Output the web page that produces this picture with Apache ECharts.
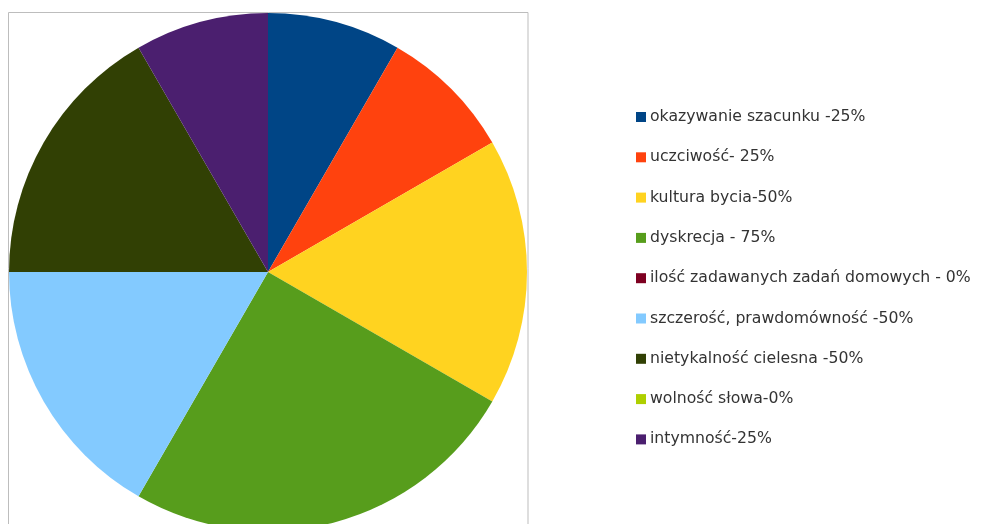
<!DOCTYPE html>
<html>
<head>
<meta charset="utf-8">
<script src="https://cdn.jsdelivr.net/npm/echarts@6/dist/echarts.min.js"></script>
<style>
  html, body { margin: 0; padding: 0; background: #fff; }
  #main { width: 981px; height: 524px; }
</style>
</head>
<body>
<div id="main"></div>
<script>
let categories = [
    'okazywanie szacunku -25%',
    'uczciwość- 25%',
    'kultura bycia-50%',
    'dyskrecja - 75%',
    'ilość zadawanych zadań domowych - 0%',
    'szczerość, prawdomówność -50%',
    'nietykalność cielesna -50%',
    'wolność słowa-0%',
    'intymność-25%'
]
let values = [25, 25, 50, 75, 0, 50, 50, 0, 25]
let colors = ['#004586', '#ff420e', '#ffd320', '#579d1c', '#7e0021', '#83caff', '#314004', '#aecf00', '#4b1f6f']

let myChart = echarts.init(document.getElementById('main'))

let option = {
    animation: false,
    color: colors,
    graphic: [
        {
            type: 'rect',
            shape: { x: 8.5, y: 12.5, width: 519.5, height: 530 },
            style: { fill: 'none', stroke: '#bdbdbd', lineWidth: 1 },
            z: 0
        }
    ],
    legend: {
        orient: 'vertical',
        left: 636,
        top: 107,
        padding: 0,
        icon: 'rect',
        itemWidth: 10,
        itemHeight: 10,
        itemGap: 20.3,
        textStyle: {
            fontFamily: 'DejaVu Sans',
            fontSize: 15.7,
            color: '#333',
            lineHeight: 20,
            padding: [0, 0, 0, -1]
        },
        data: categories
    },
    series: [
        {
            type: 'pie',
            center: [268, 272],
            radius: [0, 259],
            startAngle: 90,
            clockwise: true,
            minAngle: 0,
            avoidLabelOverlap: false,
            label: { show: false },
            labelLine: { show: false },
            itemStyle: { borderWidth: 0 },
            emphasis: { disabled: true },
            data: categories.map((name, i) => ({ name: name, value: values[i] }))
        }
    ]
}

myChart.setOption(option)
</script>
</body>
</html>
